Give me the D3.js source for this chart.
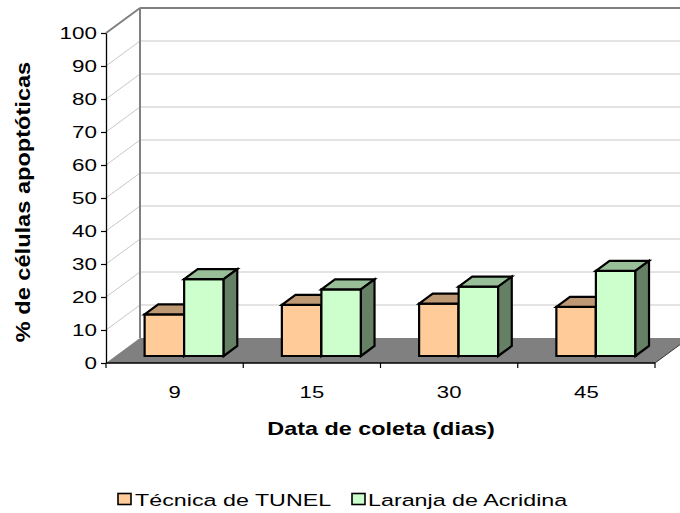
<!DOCTYPE html>
<html>
<head>
<meta charset="utf-8">
<script src="https://cdn.jsdelivr.net/npm/d3@7"></script>
<style>
  html, body { margin: 0; padding: 0; background: #fff; }
  svg { display: block; font-family: "Liberation Sans", Arial, sans-serif; }
</style>
</head>
<body>
<script>
// Data
const categories = ["9", "15", "30", "45"];
const seriesNames = ["Técnica de TUNEL", "Laranja de Acridina"];
const tunel = [12.6, 15.5, 15.9, 14.9];
const acridina = [23.3, 20.2, 21.0, 25.8];
const yTicks = [0, 10, 20, 30, 40, 50, 60, 70, 80, 90, 100];
const yTitle = "% de células apoptóticas";
const xTitle = "Data de coleta (dias)";

const series = [tunel, acridina];
const faceColors = [
  { front: "#FFCC99", top: "#BF9973", side: "#806650" },
  { front: "#CCFFCC", top: "#99BF99", side: "#668066" }
];

const W = 680, H = 513;
const svg = d3.select("body").append("svg").attr("width", W).attr("height", H);

// front plane of the 3-D box
const plotLeft = 106, plotRight = 655, plotBottom = 363, plotTop = 33;
const depth = { dx: 34, dy: -25 };
const P = (px, py, f) => [px + depth.dx * f, py + depth.dy * f];

const y = d3.scaleLinear().domain([0, 100]).range([plotBottom, plotTop]);
const x = d3.scaleBand().domain(categories).range([plotLeft, plotRight])
  .paddingInner(0.424).paddingOuter(0.212);
const xs = d3.scaleBand().domain(seriesNames).range([0, x.bandwidth()]);

const line = (a, b, stroke, w) => svg.append("line")
  .attr("x1", a[0]).attr("y1", a[1]).attr("x2", b[0]).attr("y2", b[1])
  .attr("stroke", stroke).attr("stroke-width", w);
const poly = (pts, fill, g) => (g || svg).append("polygon")
  .attr("points", pts.map(p => p.join(",")).join(" "))
  .attr("fill", fill);

// walls: gridlines on the back wall and the left side wall
yTicks.filter(v => v > 0 && v < 100).forEach(v => {
  line(P(plotLeft, y(v), 0), P(plotLeft, y(v), 1), "#C8C8C8", 1);
  line(P(plotLeft, y(v), 1), P(plotRight + 40, y(v), 1), "#C8C8C8", 1);
});
line(P(plotLeft, y(100), 0), P(plotLeft, y(100), 1), "#808080", 2);
line(P(plotLeft, y(100), 1), P(plotRight + 40, y(100), 1), "#808080", 2);
line(P(plotLeft, y(0), 1), P(plotLeft, y(100), 1), "#808080", 2);

// floor
poly([P(plotLeft, plotBottom, 0), P(plotRight, plotBottom, 0), P(plotRight, plotBottom, 1), P(plotLeft, plotBottom, 1)], "#808080");
line(P(plotRight, plotBottom, 0), P(plotRight, plotBottom, 1), "#333", 1);

// bars
const f0 = 0.28, f1 = 0.68;
const barsG = svg.append("g").attr("stroke", "#000").attr("stroke-width", 2.2)
  .attr("stroke-linejoin", "miter");
categories.forEach((c, i) => {
  seriesNames.forEach((s, k) => {
    const v = series[k][i];
    const bx = x(c) + xs(s), bw = xs.bandwidth();
    const col = faceColors[k];
    const g = barsG.append("g");
    poly([P(bx, y(0), f0), P(bx + bw, y(0), f0), P(bx + bw, y(v), f0), P(bx, y(v), f0)], col.front, g);
    poly([P(bx, y(v), f0), P(bx + bw, y(v), f0), P(bx + bw, y(v), f1), P(bx, y(v), f1)], col.top, g);
    poly([P(bx + bw, y(0), f0), P(bx + bw, y(0), f1), P(bx + bw, y(v), f1), P(bx + bw, y(v), f0)], col.side, g);
  });
});

// y axis
const yAxis = svg.append("g").attr("transform", `translate(${plotLeft},0)`)
  .call(d3.axisLeft(y).tickValues(yTicks).tickSize(5).tickSizeOuter(0));
yAxis.select(".domain").attr("stroke", "#000").attr("stroke-width", 1.3);
yAxis.selectAll(".tick line").attr("stroke", "#000").attr("stroke-width", 1.2);
yAxis.selectAll(".tick text")
  .attr("x", 0).attr("fill", "#000").attr("font-size", 17)
  .attr("font-family", "Liberation Sans, Arial, sans-serif")
  .attr("transform", "translate(-9,0) scale(1.32,1)");

// x axis: line, ticks between categories, labels at band centres
const xAxis = svg.append("g").attr("transform", `translate(0,${plotBottom})`)
  .call(d3.axisBottom(x).tickSize(0).tickSizeOuter(0));
xAxis.select(".domain").remove();
line([plotLeft, plotBottom], [plotRight, plotBottom], "#000", 1.3);
d3.range(categories.length + 1).forEach(i => {
  const tx = plotLeft + i * x.step();
  line([tx, plotBottom], [tx, plotBottom + 5], "#000", 1.2);
});
xAxis.selectAll(".tick text")
  .attr("y", 0).attr("dy", null).attr("fill", "#000").attr("font-size", 17)
  .attr("font-family", "Liberation Sans, Arial, sans-serif")
  .attr("transform", "translate(0,35) scale(1.3,1)");

// axis titles
svg.append("text")
  .attr("transform", "translate(381,435) scale(1.3,1)")
  .attr("text-anchor", "middle").attr("font-size", 18).attr("font-weight", "bold")
  .text(xTitle);
svg.append("text")
  .attr("transform", "translate(30,202) rotate(-90) scale(1.18,1)")
  .attr("text-anchor", "middle").attr("font-size", 20).attr("font-weight", "bold")
  .text(yTitle);

// legend
const legendPos = [{ sx: 118, tx: 135 }, { sx: 352, tx: 368 }];
seriesNames.forEach((s, k) => {
  svg.append("rect")
    .attr("x", legendPos[k].sx).attr("y", 493.5).attr("width", 13).attr("height", 11)
    .attr("fill", faceColors[k].front).attr("stroke", "#000").attr("stroke-width", 1.6);
  svg.append("text")
    .attr("transform", `translate(${legendPos[k].tx},506) scale(1.37,1)`)
    .attr("font-size", 17).text(s);
});
</script>
</body>
</html>
